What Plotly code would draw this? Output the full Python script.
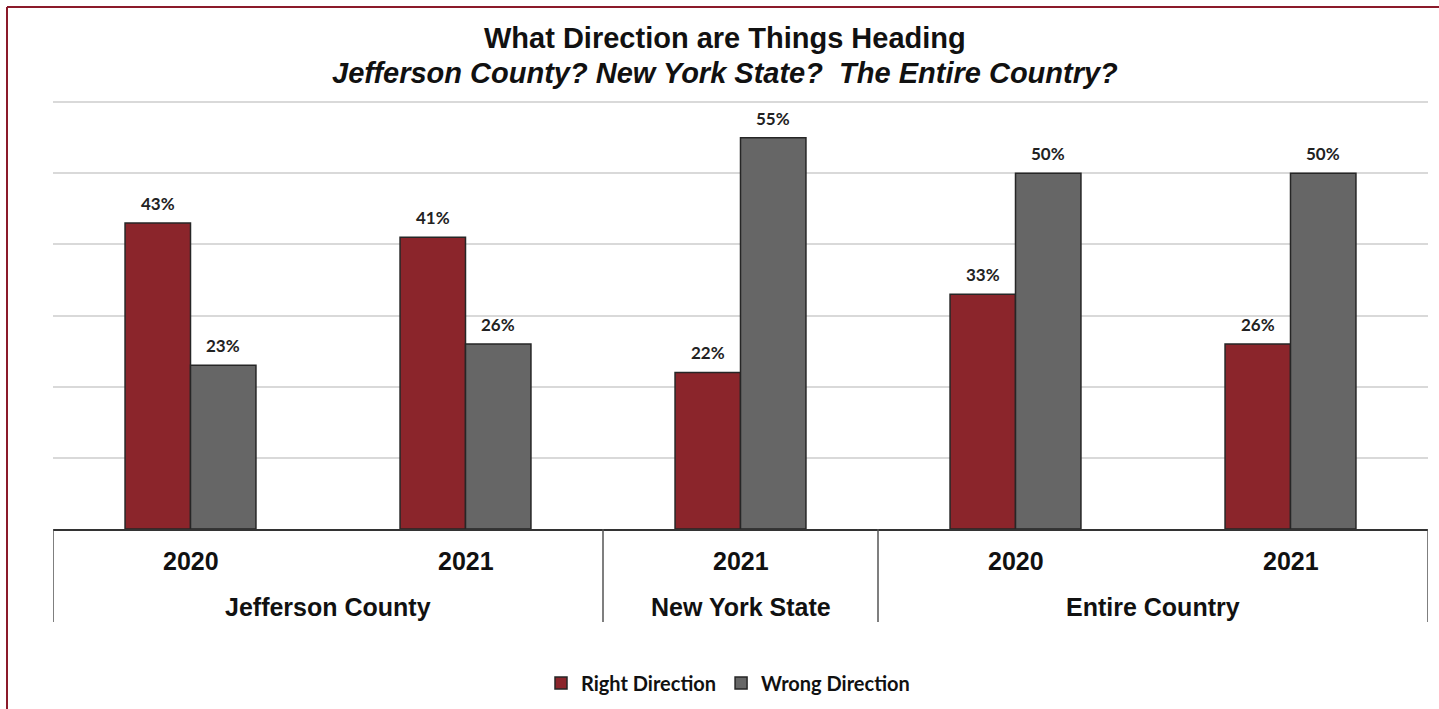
import plotly.graph_objects as go

# Survey results: share of respondents per area and year
bar_keys = ["jc2020", "jc2021", "nys2021", "ec2020", "ec2021"]
year_labels = ["2020", "2021", "2021", "2020", "2021"]
group_labels = ["Jefferson County", "New York State", "Entire Country"]
group_centers = [0.5, 2, 3.5]
group_bounds = [-0.5, 1.5, 2.5, 4.5]

right_direction = [43, 41, 22, 33, 26]
wrong_direction = [23, 26, 55, 50, 50]

RED = "#8B252B"
GRAY = "#666666"
EDGE = "#262626"

W, H = 1439, 709
# plot area; the value axis runs to 61 so the 60% gridline sits inside it
L, R, T, B = 53, 1428, 95, 529
Y_MAX = 61
BARGAP = 0.524


def px(x):
    return (x - L) / (R - L)


def py(y):
    return (B - y) / (B - T)


fig = go.Figure()
series = [("Right Direction", right_direction, RED),
          ("Wrong Direction", wrong_direction, GRAY)]
for name, vals, col in series:
    fig.add_trace(go.Bar(
        x=bar_keys, y=vals, name=name,
        marker=dict(color=col, line=dict(color=EDGE, width=1.5)),
    ))

ann = []
# two-line title
TITLE_FONT = dict(family="Liberation Sans", size=29, color="#111111")
ann.append(dict(text="<b>What Direction are Things Heading</b>", x=px(725), y=py(38),
                xref="paper", yref="paper", showarrow=False, xanchor="center", yanchor="middle",
                font=TITLE_FONT))
ann.append(dict(text="<b><i>Jefferson County? New York State?&nbsp; The Entire Country?</i></b>",
                x=px(725), y=py(73), xref="paper", yref="paper", showarrow=False,
                xanchor="center", yanchor="middle", font=TITLE_FONT))

# value labels above each bar
bar_w = (R - L) / len(bar_keys) * (1 - BARGAP) / 2
for i, (name, vals, col) in enumerate(series):
    shift = (i - 0.5) * bar_w
    for k, v in zip(bar_keys, vals):
        ann.append(dict(text=f"<b>{v}%</b>", x=k, y=v, xref="x", yref="y",
                        showarrow=False, xanchor="center", yanchor="bottom",
                        xshift=shift, yshift=7,
                        font=dict(family="Lato", size=17, color="#222222")))

AXIS_FONT = dict(family="Liberation Sans", size=25, color="#111111")
for k, lab in zip(bar_keys, year_labels):
    ann.append(dict(text=f"<b>{lab}</b>", x=k, y=py(561), xref="x", yref="paper",
                    showarrow=False, yanchor="middle", font=AXIS_FONT))
for c, lab in zip(group_centers, group_labels):
    ann.append(dict(text=f"<b>{lab}</b>", x=c, y=py(607), xref="x", yref="paper",
                    showarrow=False, yanchor="middle", font=AXIS_FONT))

shapes = []
for b in group_bounds:
    shapes.append(dict(type="line", xref="x", yref="paper", x0=b, x1=b, y0=0, y1=py(622),
                       line=dict(color="#555555", width=1.5)))
# outer frame
shapes.append(dict(type="line", xref="paper", yref="paper", x0=px(7), x1=px(W + 5),
                   y0=py(7), y1=py(7), line=dict(color="#8B1A2A", width=2)))
shapes.append(dict(type="line", xref="paper", yref="paper", x0=px(7), x1=px(7),
                   y0=py(7), y1=py(H + 5), line=dict(color="#8B1A2A", width=2)))

fig.update_layout(
    width=W, height=H,
    margin=dict(l=L, r=W - R, t=T, b=H - B, autoexpand=False),
    paper_bgcolor="white", plot_bgcolor="white",
    barmode="group", bargap=BARGAP, bargroupgap=0,
    showlegend=True,
    legend=dict(orientation="h", x=px(728), y=py(683), xanchor="center", yanchor="middle",
                font=dict(family="Lato", size=20, color="#111111", weight="bold"),
                traceorder="normal"),
    xaxis=dict(type="category", range=[-0.5, 4.5], showticklabels=False, ticks="",
               showline=True, linecolor="#333333", linewidth=2, showgrid=False, fixedrange=True),
    yaxis=dict(range=[0, Y_MAX], dtick=10, showticklabels=False, ticks="",
               showgrid=True, gridcolor="#D9D9D9", gridwidth=1.5, zeroline=False,
               showline=False, fixedrange=True),
    annotations=ann, shapes=shapes,
)

fig.write_html("out.html")
